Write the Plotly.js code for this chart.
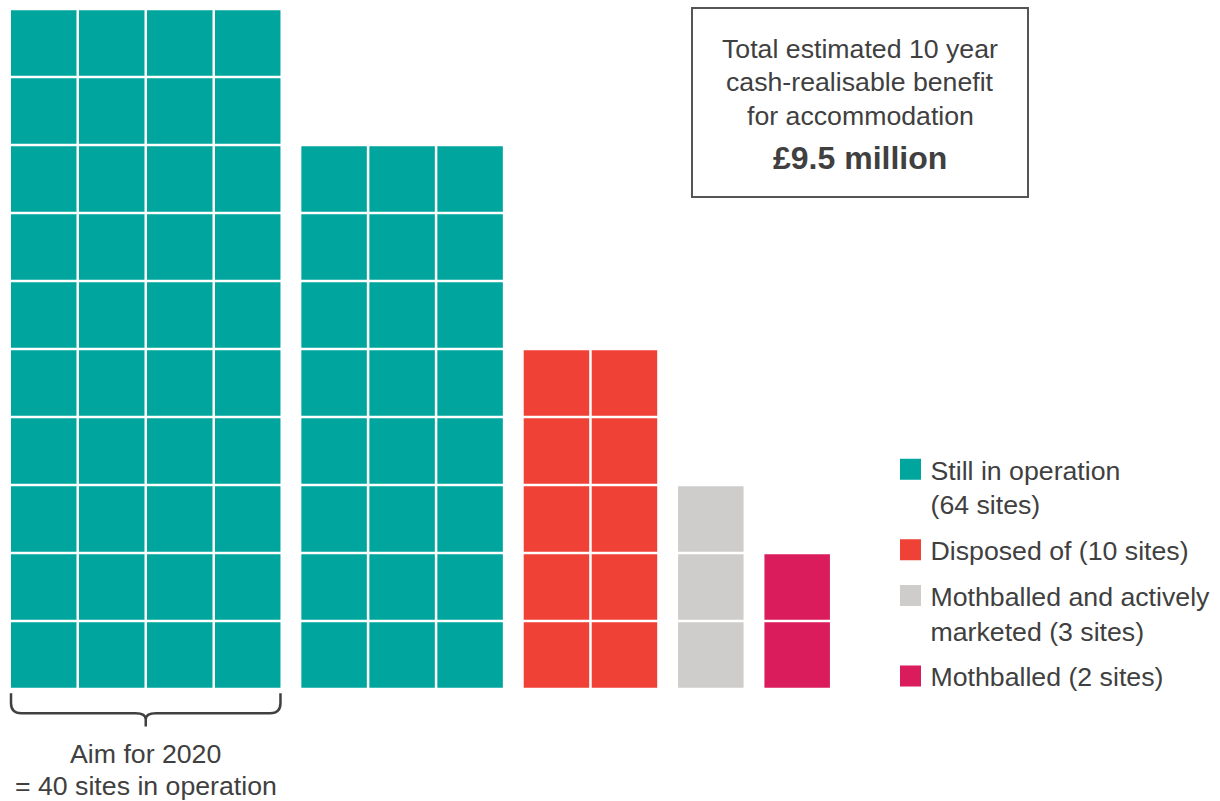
<!DOCTYPE html>
<html>
<head>
<meta charset="utf-8">
<script src="https://cdn.plot.ly/plotly-3.0.1.min.js"></script>
<style>html,body{margin:0;padding:0;background:#ffffff;}#chart{width:1220px;height:801px;}</style>
</head>
<body>
<div id="chart"></div>
<script>
// ---- data ----
const categoryLabels = [
  'Still in operation<br>(64 sites)',
  'Disposed of (10 sites)',
  'Mothballed and actively<br>marketed (3 sites)',
  'Mothballed (2 sites)'
];
const categorySites = [64, 10, 3, 2];
// waffle blocks: which category, how many sites, how many columns
const blockCategory = [0, 0, 1, 2, 3];
const blockSites = [40, 24, 10, 3, 2];
const blockColumns = [4, 3, 2, 1, 1];
const aimLines = ['Aim for 2020', '= 40 sites in operation'];
const aimSites = 40;
const boxLines = ['Total estimated 10 year', 'cash-realisable benefit', 'for accommodation'];
const boxValue = '£9.5 million';

// ---- style ----
const categoryColors = ['#00A69D', '#EF4136', '#CECDCB', '#DA1C5C'];
const textColor = '#404040';
const fontFamily = 'Liberation Sans, Arial, Helvetica, sans-serif';
const textSize = 26.7;
const cellSize = 0.963;   // fraction of one cell pitch
const blockGap = 0.27;    // gap between blocks in cell pitches
const W = 1220, H = 801;
const pitchPx = 68, originXPx = 11, originYPx = 687.7;

// ---- compute cell polygons per category ----
const xs = categoryLabels.map(() => []);
const ys = categoryLabels.map(() => []);
const blockStarts = [];
let xCursor = 0;
blockSites.forEach((n, b) => {
  const cols = blockColumns[b];
  const c = blockCategory[b];
  blockStarts.push(xCursor);
  for (let i = 0; i < n; i++) {
    const col = i % cols;
    const row = Math.floor(i / cols);
    const x0 = xCursor + col, x1 = x0 + cellSize;
    const y0 = row, y1 = row + cellSize;
    xs[c].push(x0, x1, x1, x0, x0, null);
    ys[c].push(y0, y0, y1, y1, y0, null);
  }
  xCursor += cols + blockGap;
});

const traces = [];
categoryLabels.forEach((lab, c) => {
  traces.push({
    type: 'scatter', mode: 'lines', x: xs[c], y: ys[c],
    fill: 'toself', fillcolor: categoryColors[c],
    line: {width: 0, color: categoryColors[c]},
    name: lab.replace('<br>', ' '), hoveron: 'fills',
    hoverinfo: 'name', showlegend: false, legendgroup: 'g' + c
  });
  traces.push({
    type: 'scatter', mode: 'markers', x: [null], y: [null],
    name: lab, legendgroup: 'g' + c, showlegend: true,
    marker: {symbol: 'square', size: 16, color: categoryColors[c],
             line: {width: 5, color: categoryColors[c]}},
    hoverinfo: 'skip'
  });
});

// axis ranges so that one cell pitch = pitchPx pixels
const xMin = -originXPx / pitchPx;
const xMax = xMin + W / pitchPx;
const yMin = -(H - originYPx) / pitchPx;
const yMax = yMin + H / pitchPx;

// bracket under first (aim) block
const aimCols = blockColumns[0];
const bx0 = blockStarts[0], bx1 = blockStarts[0] + aimCols - 1 + cellSize;
const bcx = (bx0 + bx1) / 2;
const yTop = -0.08, yMid = -0.375, yTip = -0.57, r = 0.15, rc = 0.15, rs = 0.09;
const bracketPath =
  `M${bx0},${yTop} L${bx0},${yMid + r} Q${bx0},${yMid} ${bx0 + r},${yMid} ` +
  `L${bcx - rc},${yMid} Q${bcx},${yMid} ${bcx},${yMid - rs} L${bcx},${yTip} ` +
  `M${bcx},${yMid - rs} Q${bcx},${yMid} ${bcx + rc},${yMid} ` +
  `L${bx1 - r},${yMid} Q${bx1},${yMid} ${bx1},${yMid + r} L${bx1},${yTop}`;

const py = p => 1 - p / H;
const annotations = [];
const boxCenterX = 860 / W;
const boxYs = [49, 82, 115.5];
boxLines.forEach((t, i) => annotations.push({
  xref: 'paper', yref: 'paper', x: boxCenterX, y: py(boxYs[i]),
  xanchor: 'center', yanchor: 'middle', showarrow: false, text: t,
  font: {family: fontFamily, size: textSize, color: textColor}
}));
annotations.push({
  xref: 'paper', yref: 'paper', x: boxCenterX, y: py(157.7),
  xanchor: 'center', yanchor: 'middle', showarrow: false, text: '<b>' + boxValue + '</b>',
  font: {family: fontFamily, size: 32, color: textColor}
});
const aimYs = [754, 786];
aimLines.forEach((t, i) => annotations.push({
  xref: 'x', yref: 'paper', x: bcx, y: py(aimYs[i]),
  xanchor: 'center', yanchor: 'middle', showarrow: false, text: t,
  font: {family: fontFamily, size: textSize, color: textColor}
}));

const layout = {
  width: W, height: H,
  margin: {l: 0, r: 0, t: 0, b: 0, pad: 0},
  paper_bgcolor: '#ffffff', plot_bgcolor: '#ffffff',
  xaxis: {range: [xMin, xMax], visible: false, fixedrange: true},
  yaxis: {range: [yMin, yMax], visible: false, fixedrange: true},
  showlegend: true,
  legend: {
    x: 890.5 / W, xanchor: 'left', y: py(445.5), yanchor: 'top',
    font: {family: fontFamily, size: textSize, color: textColor},
    valign: 'top', traceorder: 'grouped', tracegroupgap: 8,
    bgcolor: 'rgba(0,0,0,0)', borderwidth: 0
  },
  shapes: [
    {type: 'rect', xref: 'paper', yref: 'paper',
     x0: 692 / W, x1: 1028 / W, y0: py(197), y1: py(8),
     line: {color: '#555555', width: 2}, fillcolor: 'rgba(0,0,0,0)'},
    {type: 'path', xref: 'x', yref: 'y', path: bracketPath,
     line: {color: textColor, width: 2.5}}
  ],
  annotations: annotations,
  font: {family: fontFamily, color: textColor}
};

Plotly.newPlot('chart', traces, layout, {displayModeBar: false, responsive: false});
</script>
</body>
</html>
